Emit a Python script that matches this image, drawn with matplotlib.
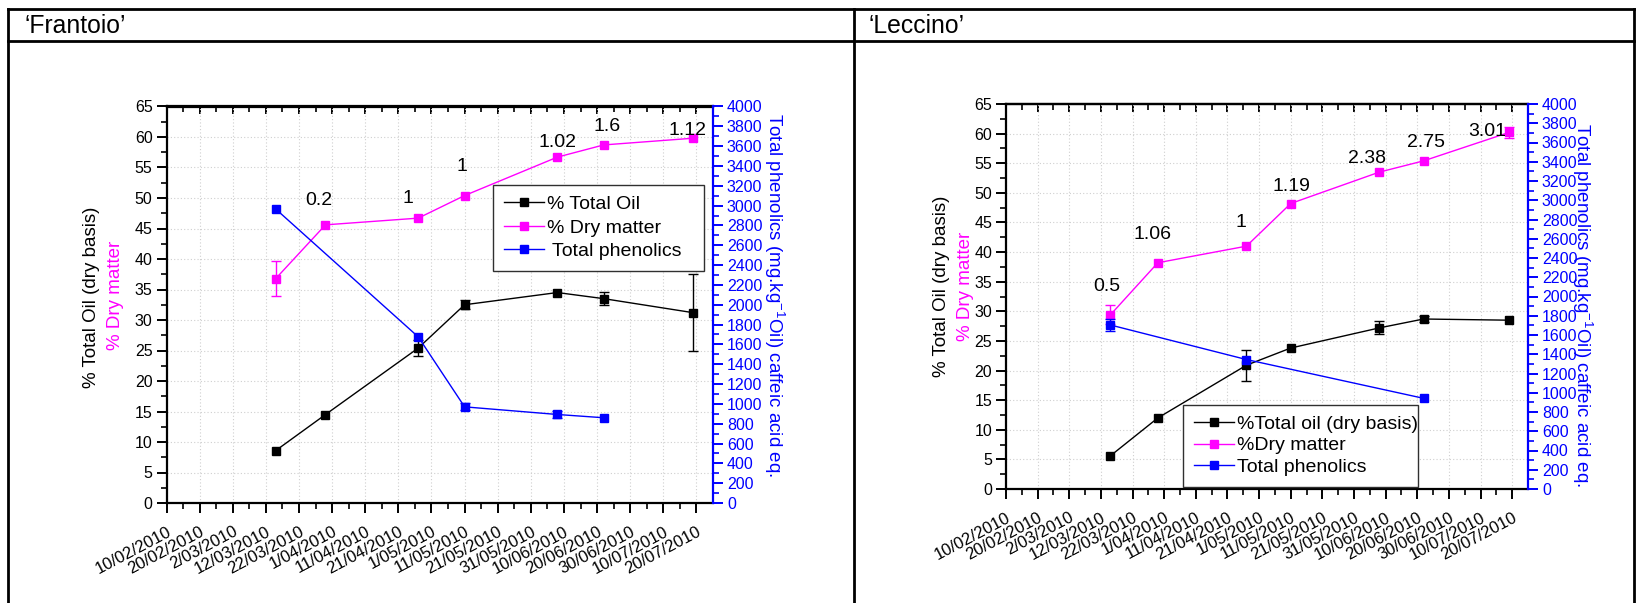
import numpy as np
import matplotlib
matplotlib.use("Agg")
import matplotlib.pyplot as plt
from matplotlib.lines import Line2D
from matplotlib.ticker import FixedLocator, MultipleLocator

plt.rcParams['font.family'] = ['Liberation Sans', 'DejaVu Sans']
plt.rcParams['mathtext.fontset'] = 'custom'
plt.rcParams['mathtext.rm'] = 'Liberation Sans'
plt.rcParams['mathtext.it'] = 'Liberation Sans:italic'
plt.rcParams['mathtext.bf'] = 'Liberation Sans:bold'

# ---------------- data ----------------
START = "2010-02-10"
date_ticks = ["10/02/2010", "20/02/2010", "2/03/2010", "12/03/2010", "22/03/2010",
              "1/04/2010", "11/04/2010", "21/04/2010", "1/05/2010", "11/05/2010",
              "21/05/2010", "31/05/2010", "10/06/2010", "20/06/2010", "30/06/2010",
              "10/07/2010", "20/07/2010"]

sample_dates = ["2010-03-15", "2010-03-30", "2010-04-27", "2010-05-11",
                "2010-06-08", "2010-06-22", "2010-07-19"]

# 'Frantoio'
fr_oil = [8.6, 14.5, 25.4, 32.5, 34.5, 33.5, 31.2]
fr_oil_err = [0.0, 0.0, 1.3, 0.7, 0.0, 1.1, 6.3]
fr_dry = [36.8, 45.6, 46.7, 50.4, 56.7, 58.7, 59.8]
fr_dry_err = [2.9, 0.0, 0.0, 0.0, 0.0, 0.0, 0.0]
fr_phen_dates = ["2010-03-15", "2010-04-27", "2010-05-11", "2010-06-08", "2010-06-22"]
fr_phen = [2965, 1676, 970, 893, 860]
fr_phen_err = [0, 0, 35, 40, 0]
fr_notes = ["", "0.2", "1", "1", "1.02", "1.6", "1.12"]

# 'Leccino'
le_oil = [5.6, 12.0, 20.9, 23.8, 27.2, 28.7, 28.5]
le_oil_err = [0.0, 0.0, 2.65, 0.0, 1.1, 0.5, 0.0]
le_dry = [29.4, 38.2, 41.0, 48.2, 53.5, 55.4, 60.2]
le_dry_err = [1.6, 0.0, 0.0, 0.0, 0.0, 0.0, 1.0]
le_phen_dates = ["2010-03-15", "2010-04-27", "2010-06-22"]
le_phen = [1704, 1345, 942]
le_phen_err = [65, 0, 0]
le_notes = ["0.5", "1.06", "1", "1.19", "2.38", "2.75", "3.01"]


def days_since(dates):
    t0 = np.datetime64(START)
    return np.array([(np.datetime64(d) - t0).astype(int) for d in dates], dtype=float)


def tick_days(labels):
    iso = []
    for s in labels:
        d, m, y = s.split("/")
        iso.append(f"{y}-{int(m):02d}-{int(d):02d}")
    return days_since(iso)


# ---------------- figure ----------------
W, H = 1636, 603
fig = plt.figure(figsize=(W / 100, H / 100), dpi=100)


def fx(px):
    return px / W


def fy(py):
    return 1 - py / H


def frame_line(x0, y0, x1, y1):
    fig.add_artist(Line2D([fx(x0), fx(x1)], [fy(y0), fy(y1)], transform=fig.transFigure,
                          color="black", lw=2.0, solid_capstyle="projecting"))


# table frame
frame_line(8, 9, 1634, 9)
frame_line(8, 41, 1634, 41)
frame_line(8, 9, 8, 603)
frame_line(854, 9, 854, 603)
frame_line(1634, 9, 1634, 603)

fig.text(fx(25), fy(33), "\u2018Frantoio\u2019", fontsize=17.8, ha="left", va="baseline")
fig.text(fx(869), fy(33), "\u2018Leccino\u2019", fontsize=17.8, ha="left", va="baseline")

BLACK, MAGENTA, BLUE = "#000000", "#FF00FF", "#0000FF"
tick_pos = tick_days(date_ticks)
x_samples = days_since(sample_dates)


def errbars(ax, x, y, e, color):
    x, y, e = np.asarray(x), np.asarray(y, float), np.asarray(e, float)
    m = e > 0
    if m.any():
        ax.errorbar(x[m], y[m], yerr=e[m], fmt="none", ecolor=color, elinewidth=1.0,
                    capsize=3.5, capthick=1.0, zorder=2.5)


def draw_panel(box, oil, oil_err, dry, dry_err, ph_dates, ph, ph_err, notes, note_offsets,
               labels, legend_box, legend_spacing, label_px):
    left, top, right, bottom = box
    ax = fig.add_axes([fx(left), fy(bottom), fx(right) - fx(left), fy(top) - fy(bottom)])
    ax2 = ax.twinx()

    ax.set_xlim(0, 165)
    ax.set_ylim(0, 65)
    ax2.set_ylim(0, 4000)

    # x axis with date labels
    ax.set_xticks(tick_pos)
    ax.set_xticklabels(date_ticks, rotation=28, ha="right", va="top", rotation_mode="anchor")
    ax.xaxis.set_minor_locator(FixedLocator(tick_pos[:-1] + 5))
    ax.yaxis.set_major_locator(MultipleLocator(5))
    ax.yaxis.set_minor_locator(MultipleLocator(2.5))
    ax.tick_params(axis="both", which="major", direction="out", length=7, width=1.4,
                   colors="black")
    ax.tick_params(axis="x", which="major", labelsize=12, pad=8)
    ax.tick_params(axis="y", which="major", labelsize=11.5, pad=3)
    ax.tick_params(axis="both", which="minor", direction="out", length=4, width=1.2)

    top_ax = ax.secondary_xaxis("top")
    top_ax.set_xticks(tick_pos)
    top_ax.set_xticklabels([])
    top_ax.xaxis.set_minor_locator(FixedLocator(tick_pos[:-1] + 5))
    top_ax.tick_params(which="major", direction="in", length=6, width=1.4)
    top_ax.tick_params(which="minor", direction="in", length=4, width=1.2)
    top_ax.spines["top"].set_linewidth(1.6)

    ax.grid(True, which="major", color="#cfcfcf", linestyle=(0, (1, 2)), linewidth=0.8)
    ax.set_axisbelow(True)

    for s in ("left", "bottom", "top"):
        ax.spines[s].set_linewidth(1.6)
    ax.spines["right"].set_visible(False)
    for s in ("left", "bottom", "top"):
        ax2.spines[s].set_visible(False)
    ax2.spines["right"].set_color(BLUE)
    ax2.spines["right"].set_linewidth(1.6)
    ax2.yaxis.set_major_locator(MultipleLocator(200))
    ax2.yaxis.set_minor_locator(MultipleLocator(100))
    ax2.tick_params(axis="y", which="major", direction="out", length=7, width=1.4,
                    labelsize=11.5, colors=BLUE, pad=3)
    ax2.tick_params(axis="y", which="minor", direction="out", length=4, width=1.2, colors=BLUE)

    # series
    ax.plot(x_samples, oil, "-s", color=BLACK, ms=6, lw=1.0, mec=BLACK, zorder=3)
    errbars(ax, x_samples, oil, oil_err, BLACK)
    ax.plot(x_samples, dry, "-s", color=MAGENTA, ms=6, lw=1.0, mec=MAGENTA, zorder=3)
    errbars(ax, x_samples, dry, dry_err, MAGENTA)
    xp = days_since(ph_dates)
    ax2.plot(xp, ph, "-s", color=BLUE, ms=6, lw=1.0, mec=BLUE, zorder=3)
    errbars(ax2, xp, ph, ph_err, BLUE)

    for xi, yi, txt, off in zip(x_samples, dry, notes, note_offsets):
        if txt:
            ax.annotate(txt, xy=(xi, yi), xytext=off, textcoords="offset points",
                        ha="center", va="center", fontsize=14, color="black", zorder=6)

    handles = [Line2D([], [], color=c, marker="s", ms=6, lw=1.0) for c in (BLACK, MAGENTA, BLUE)]
    leg = ax2.legend(handles, labels, loc="upper left", bbox_to_anchor=legend_box,
                     mode="expand", fontsize=14, frameon=True, fancybox=False,
                     edgecolor="#303030", framealpha=1.0, borderpad=0.56,
                     labelspacing=legend_spacing, handlelength=2.1, handletextpad=0.15,
                     borderaxespad=0.0)
    leg.get_frame().set_linewidth(1.0)
    leg.set_zorder(10)

    (bx, by), (mx, my), (rx, ry) = label_px
    fig.text(fx(bx), fy(by), "% Total Oil (dry basis)", rotation=90, fontsize=13.5,
             ha="center", va="center", color=BLACK)
    fig.text(fx(mx), fy(my), "% Dry matter", rotation=90, fontsize=13.5,
             ha="center", va="center", color=MAGENTA)
    fig.text(fx(rx), fy(ry), "Total phenolics (mg.kg$^{-1}$Oil) caffeic acid eq.",
             rotation=-90, fontsize=13.5, ha="center", va="center", color=BLUE)
    return ax, ax2


draw_panel((166.5, 106.5, 713, 503), fr_oil, fr_oil_err, fr_dry, fr_dry_err,
           fr_phen_dates, fr_phen, fr_phen_err, fr_notes,
           [(0, 0), (-4.8, 17.3), (-7.2, 14.4), (-2.2, 20.9), (0, 10.8), (2.2, 13), (-4.3, 5.5)],
           ["% Total Oil", "% Dry matter", " Total phenolics"],
           (0.597, 0.58, 0.387, 0.223), 0.30,
           [(91.5, 297), (116, 295), (774, 295)])

draw_panel((1006, 104, 1528, 489), le_oil, le_oil_err, le_dry, le_dry_err,
           le_phen_dates, le_phen, le_phen_err, le_notes,
           [(-2.9, 20.2), (-3.6, 20.2), (-4.3, 17.3), (0.7, 12.2), (-8.6, 10.1), (1.4, 13), (-16, 0.7)],
           ["%Total oil (dry basis)", "%Dry matter", "Total phenolics"],
           (0.3385, 0.0, 0.4505, 0.219), 0.19,
           [(942, 286), (966, 286), (1582, 305)])

fig.savefig("out.png", dpi=100)
